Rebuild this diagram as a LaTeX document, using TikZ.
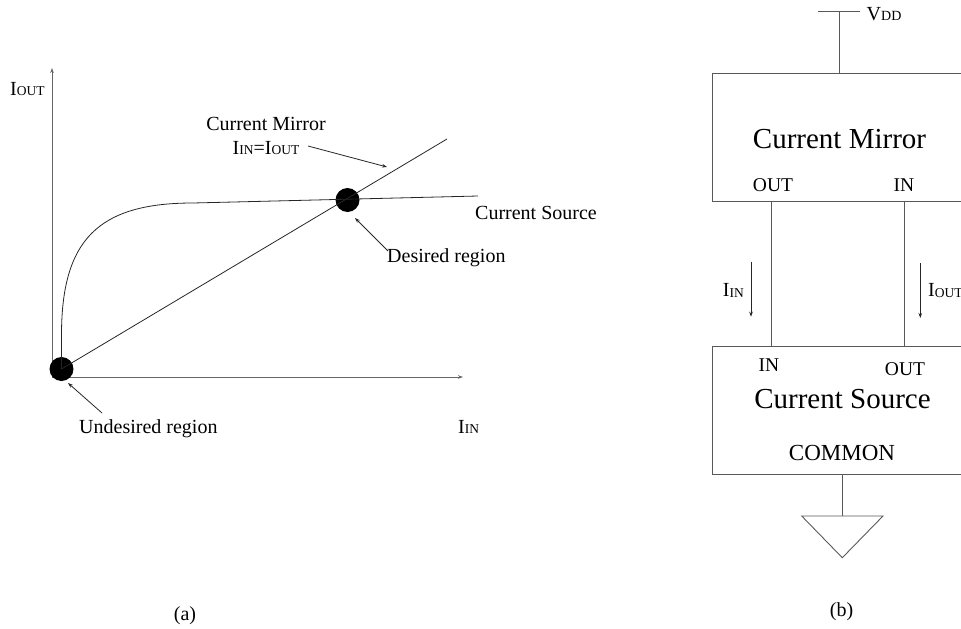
\documentclass[tikz,border=0pt]{standalone}
\usepackage{fontspec}
\setmainfont{Liberation Serif}
\usetikzlibrary{arrows.meta}
\newcommand\lsub[1]{\raisebox{-0.8pt}{\fontsize{13.5}{14}\selectfont #1}}
\newcommand\lsubb[1]{\raisebox{-0.8pt}{\fontsize{14}{15}\selectfont #1}}
\begin{document}
\begin{tikzpicture}[x=1pt,y=-1pt,
  lbl/.style={font=\fontsize{20}{24}\selectfont, inner sep=0pt},
  big/.style={font=\fontsize{29}{34}\selectfont, inner sep=0pt},
  port/.style={font=\fontsize{19.5}{23}\selectfont, inner sep=0pt},
  com/.style={font=\fontsize{23}{27}\selectfont, inner sep=0pt},
  wire/.style={draw=black!65, line width=0.9pt},
  curve/.style={draw=black!85, line width=0.8pt},
  ptr/.style={draw=black!85, line width=0.8pt, -{Stealth[length=5pt,width=3.6pt]}},
  axis/.style={draw=black!60, line width=0.9pt, -{Stealth[length=5pt,width=3.6pt]}},
  dotnode/.style={circle, fill=black, minimum size=24pt, inner sep=0pt}]
\useasboundingbox (0,0) rectangle (961,629);
\clip (0,0) rectangle (961,629);

% ---------------- (a) graph ----------------
\coordinate (O) at (52,377);
\coordinate (ytip) at (52,68);
\coordinate (xtip) at (463,377);
\draw[axis] (O) -- (ytip);
\draw[axis] (O) -- (xtip);

\node[dotnode] (d1) at (61.5,369) {};
\node[dotnode] (d2) at (347.5,200) {};
\coordinate (mirEnd) at (447,139);
\coordinate (srcBend) at (193,203);
\coordinate (srcEnd) at (478,196);

\draw[curve] (d1.center) -- (61.5,335) .. controls (61.5,240) and (98,203) .. (srcBend) -- (srcEnd);
\draw[curve] (d1.center) -- (mirEnd);

\node[lbl, anchor=base west] (yl) at (10,95) {I\lsub{OUT}};
\node[lbl, anchor=base west] (xl) at (458,433) {I\lsub{IN}};
\node[lbl, anchor=base] (cm) at (266,130) {Current Mirror};
\node[lbl, anchor=base] (eq) at (266,154) {I\lsub{IN}=I\lsub{OUT}};
\node[lbl, anchor=base west] (cs) at (475,219) {Current Source};
\node[lbl, anchor=base west] (dr) at (387,262) {Desired region};
\node[lbl, anchor=base west] (ur) at (79,433) {Undesired region};
\node[lbl, anchor=base] (la) at (185,620) {(a)};

\coordinate (p1s) at (308,146);
\coordinate (p1e) at (387,167);
\draw[ptr] (p1s) -- (p1e);
\coordinate (p2s) at (388,251);
\coordinate (p2e) at (355,218);
\draw[ptr] (p2s) -- (p2e);
\coordinate (p3s) at (102,413);
\coordinate (p3e) at (68,383);
\draw[ptr] (p3s) -- (p3e);

% ---------------- (b) block diagram ----------------
\coordinate (vbarL) at (818,11.7);
\coordinate (vbarR) at (860,11.7);
\coordinate (vtop) at (839.3,11.7);
\coordinate (mtop) at (839.3,73);
\draw[wire] (vbarL) -- (vbarR);
\draw[wire] (vtop) -- (mtop);
\node[lbl, anchor=base west] (vdd) at (866.5,20) {V\lsubb{DD}};

% current mirror box (open at right edge)
\draw[wire] (975,73) -- (712.3,73) -- (712.3,201) -- (975,201);
\node[big, anchor=base] (cmb) at (839.5,148) {Current Mirror};
\node[port, anchor=base] (mout) at (773,191.5) {OUT};
\node[port, anchor=base] (min) at (904,191.5) {IN};

% current source box
\draw[wire] (975,346.7) -- (712.3,346.7) -- (712.3,474.3) -- (975,474.3);
\node[big, anchor=base] (csb) at (842.5,408) {Current Source};
\node[port, anchor=base] (sin) at (769,371.7) {IN};
\node[port, anchor=base] (sout) at (905,375) {OUT};
\node[com, anchor=base] (common) at (842,460) {COMMON};

\coordinate (w1a) at (771,201);
\coordinate (w1b) at (771,346.7);
\coordinate (w2a) at (904.8,201);
\coordinate (w2b) at (904.8,346.7);
\draw[wire] (w1a) -- (w1b);
\draw[wire] (w2a) -- (w2b);

\coordinate (a1s) at (751,261.7);
\coordinate (a1e) at (751,316.7);
\draw[ptr] (a1s) -- (a1e);
\coordinate (a2s) at (920.3,263);
\coordinate (a2e) at (920.3,318);
\draw[ptr] (a2s) -- (a2e);
\node[lbl, anchor=base west] (iin) at (722.7,296.7) {I\lsub{IN}};
\node[lbl, anchor=base west] (iout) at (928,296.7) {I\lsub{OUT}};

% ground
\coordinate (g0) at (842.3,474.3);
\coordinate (g1) at (842.3,516);
\draw[wire] (g0) -- (g1);
\draw[wire] (801.7,516) -- (883,516) -- (842.3,557.7) -- cycle;

\node[lbl, anchor=base] (lb) at (841.5,616) {(b)};
\end{tikzpicture}
\end{document}
